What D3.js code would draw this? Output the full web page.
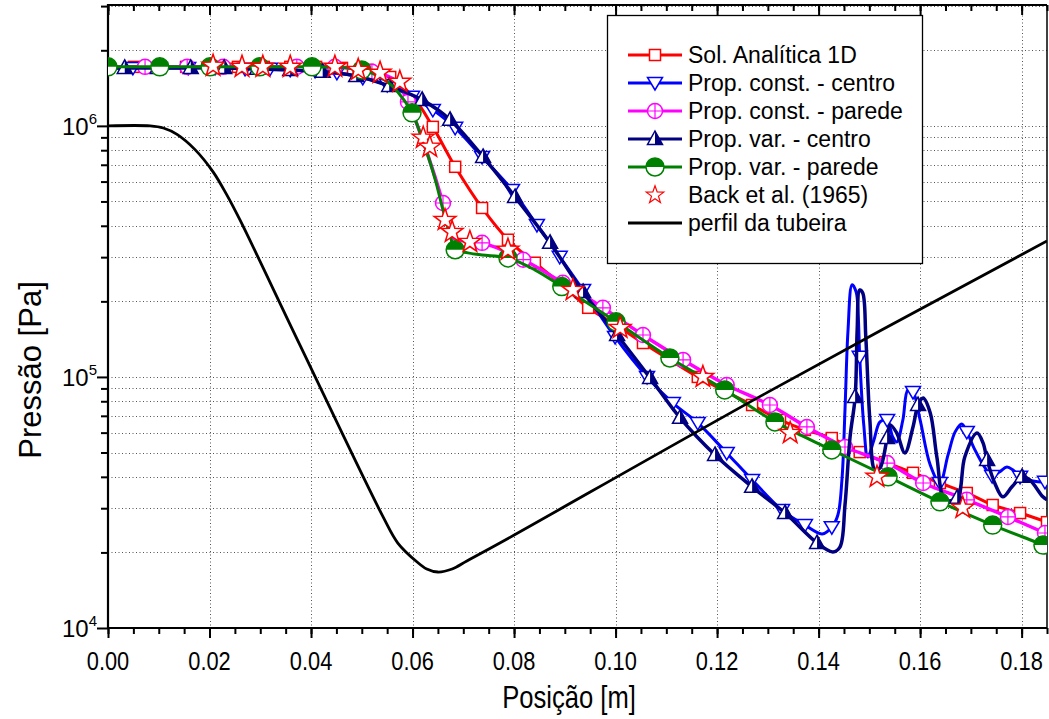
<!DOCTYPE html>
<html><head><meta charset="utf-8">
<script src="https://cdn.jsdelivr.net/npm/d3@7"></script>
<style>body{margin:0;background:#fff} svg{display:block}</style>
</head><body><svg id="c" width="1049" height="719"></svg>
<script>
// ---------- DATA ----------
const xTickValues = [0, 0.02, 0.04, 0.06, 0.08, 0.10, 0.12, 0.14, 0.16, 0.18];
const yMajorTicks = [1e4, 1e5, 1e6];
const yExponents = ["4", "5", "6"];
const seriesNames = ["Sol. Analítica 1D", "Prop. const. - centro", "Prop. const. - parede",
  "Prop. var. - centro", "Prop. var. - parede", "Back et al. (1965)", "perfil da tubeira"];

// [x (m), pressure (Pa), marker flag]
const solAnalitica = [
  [0,1.718e6,1],[0.0051,1.718e6,1],[0.0102,1.718e6,1],[0.0154,1.718e6,1],[0.0205,1.718e6,1],
  [0.0256,1.718e6,1],[0.0307,1.718e6,1],[0.0359,1.718e6,1],[0.041,1.718e6,1],[0.0461,1.702e6,1],
  [0.0512,1.671e6,1],[0.0556,1.566e6,1],[0.0601,1.305e6,0],[0.064,9.91e5,1],[0.0684,6.87e5,1],
  [0.0737,4.71e5,1],[0.0788,3.52e5,1],[0.0841,2.85e5,1],[0.0894,2.33e5,1],[0.0946,1.885e5,1],
  [0.1001,1.61e5,1],[0.1054,1.365e5,1],[0.1107,1.169e5,1],[0.1162,1.0e5,1],[0.1215,8.79e4,1],
  [0.1269,7.73e4,1],[0.1324,6.74e4,1],[0.1373,6.15e4,1],[0.1426,5.71e4,1],[0.1481,5.02e4,1],
  [0.1531,4.58e4,1],[0.1586,4.15e4,1],[0.1639,3.78e4,1],[0.1692,3.45e4,1],[0.1743,3.09e4,1],
  [0.1797,2.87e4,1],[0.185,2.64e4,1]
];
const constCentro = [
  [0,1.702e6,0],[0.0049,1.702e6,1],[0.0102,1.702e6,1],[0.0158,1.702e6,1],[0.0211,1.702e6,1],
  [0.027,1.687e6,1],[0.0319,1.687e6,1],[0.0359,1.671e6,1],[0.0408,1.656e6,1],[0.0451,1.626e6,1],
  [0.0502,1.553e6,1],[0.055,1.455e6,1],[0.0599,1.305e6,1],[0.064,1.158e6,1],[0.0684,9.82e5,1],
  [0.0737,7.52e5,1],[0.0796,5.56e5,1],[0.0845,4.03e5,1],[0.089,3.01e5,1],[0.0936,2.22e5,1],
  [0.0999,1.443e5,1],[0.1062,1.0e5,1],[0.1113,7.87e4,1],[0.1162,6.56e4,1],[0.1219,4.98e4,1],
  [0.1269,3.89e4,1],[0.1328,2.95e4,1],[0.1373,2.57e4,1],[0.1407,2.37e4,0],[0.1426,2.52e4,1],
  [0.1438,2.82e4,0],[0.1446,3.89e4,0],[0.1452,7.39e4,0],[0.1458,1.538e5,0],[0.1466,2.33e5,0],
  [0.1474,2.18e5,0],[0.1478,1.766e5,0],[0.1481,1.203e5,1],[0.1489,6.44e4,0],[0.1497,4.80e4,0],
  [0.1509,5.61e4,0],[0.1521,6.62e4,0],[0.1535,6.74e4,1],[0.1546,5.77e4,0],[0.1554,5.51e4,0],
  [0.1566,6.74e4,0],[0.1576,8.88e4,0],[0.1586,8.71e4,1],[0.16,6.74e4,0],[0.162,4.46e4,0],
  [0.1639,3.78e4,1],[0.1655,4.89e4,0],[0.1669,6.04e4,0],[0.1682,6.50e4,0],[0.1692,6.04e4,1],
  [0.1708,5.12e4,0],[0.1728,4.34e4,0],[0.1742,4.03e4,1],[0.1757,4.19e4,0],[0.1771,4.38e4,0],
  [0.1783,4.26e4,0],[0.1797,4.0e4,1],[0.1822,3.85e4,0],[0.1846,3.82e4,1],[0.185,3.85e4,0]
];
const constParede = [
  [0,1.718e6,0],[0.0073,1.718e6,1],[0.0156,1.718e6,1],[0.0227,1.718e6,1],[0.0299,1.718e6,1],
  [0.0372,1.718e6,1],[0.0447,1.718e6,1],[0.052,1.641e6,1],[0.0565,1.52e6,0],[0.0591,1.246e6,1],
  [0.063,7.66e5,0],[0.066,4.93e5,1],[0.0678,3.61e5,0],[0.0703,3.48e5,0],[0.0737,3.42e5,1],
  [0.0818,2.93e5,1],[0.0896,2.37e5,1],[0.0975,1.885e5,1],[0.1054,1.469e5,1],[0.1133,1.169e5,1],
  [0.1219,9.29e4,1],[0.1304,7.73e4,1],[0.1377,6.32e4,1],[0.1452,5.26e4,1],[0.1535,4.54e4,1],
  [0.1606,3.78e4,1],[0.1692,3.24e4,1],[0.1773,2.77e4,1],[0.1846,2.39e4,1],[0.185,2.37e4,0]
];
const varCentro = [
  [0,1.702e6,0],[0.0033,1.702e6,1],[0.0098,1.702e6,1],[0.0163,1.702e6,1],[0.0229,1.702e6,1],
  [0.0294,1.687e6,1],[0.0359,1.671e6,1],[0.0423,1.641e6,1],[0.0489,1.581e6,1],[0.0554,1.442e6,1],
  [0.0619,1.269e6,1],[0.0674,1.057e6,1],[0.0739,7.52e5,1],[0.0802,5.21e5,1],[0.0871,3.42e5,1],
  [0.0936,2.18e5,1],[0.1003,1.469e5,1],[0.1068,9.91e4,1],[0.1127,6.87e4,1],[0.1196,4.89e4,1],
  [0.1269,3.65e4,1],[0.1334,2.87e4,1],[0.1397,2.18e4,1],[0.1428,2.01e4,0],[0.1442,2.10e4,0],
  [0.1452,3.09e4,0],[0.1462,5.77e4,0],[0.1472,8.32e4,1],[0.1476,1.538e5,0],[0.1481,2.22e5,0],
  [0.1487,2.16e5,0],[0.1493,1.443e5,0],[0.1501,6.74e4,0],[0.1511,4.26e4,0],[0.1521,4.34e4,0],
  [0.1535,5.71e4,1],[0.1541,6.44e4,0],[0.1554,5.98e4,0],[0.157,4.98e4,0],[0.1586,6.32e4,0],
  [0.1596,7.73e4,1],[0.1606,8.25e4,0],[0.162,7.19e4,0],[0.1633,4.80e4,0],[0.1649,3.24e4,0],
  [0.1673,3.30e4,1],[0.1688,4.80e4,0],[0.1712,5.98e4,0],[0.1724,5.46e4,0],[0.1732,4.67e4,1],
  [0.1747,3.78e4,0],[0.1763,3.33e4,0],[0.1781,3.65e4,0],[0.1801,4.0e4,1],[0.1816,3.89e4,0],
  [0.1842,3.33e4,0],[0.185,3.24e4,0]
];
const varParede = [
  [0,1.718e6,1],[0.0102,1.718e6,1],[0.0201,1.718e6,1],[0.0299,1.718e6,1],[0.0402,1.718e6,1],
  [0.0500,1.671e6,1],[0.0546,1.52e6,0],[0.0571,1.365e6,0],[0.0599,1.127e6,1],[0.0615,9.38e5,0],
  [0.063,7.66e5,0],[0.0646,5.98e5,0],[0.066,4.62e5,0],[0.0674,3.68e5,0],[0.0684,3.21e5,1],
  [0.0709,3.12e5,0],[0.0737,3.06e5,0],[0.0788,2.98e5,1],[0.0841,2.67e5,0],[0.0894,2.29e5,1],
  [0.1001,1.657e5,1],[0.1107,1.19e5,1],[0.1215,8.88e4,1],[0.1314,6.62e4,1],[0.1426,5.12e4,1],
  [0.1537,4.0e4,1],[0.1639,3.18e4,1],[0.1743,2.57e4,1],[0.1842,2.14e4,1],[0.185,2.10e4,0]
];
const backEtAl = [
  [0.0207,1.734e6],[0.0264,1.718e6],[0.0305,1.718e6],[0.0359,1.718e6],[0.0447,1.718e6],
  [0.0493,1.671e6],[0.0536,1.626e6],[0.0575,1.497e6],[0.0621,8.96e5],[0.0634,8.25e5],
  [0.0664,4.22e5],[0.0678,3.78e5],[0.0713,3.45e5],[0.0788,3.21e5],[0.0916,2.22e5],
  [0.1009,1.568e5],[0.1172,1.0e5],[0.1344,5.98e4],[0.1515,4.0e4],[0.1684,3.01e4]
];
const perfilTubeira = [
  [0,1e6],[0.0083,1e6],[0.0109,9.81e5],[0.0136,9.25e5],[0.0171,8.06e5],[0.0207,6.56e5],
  [0.0233,5.36e5],[0.026,4.22e5],[0.0378,1.342e5],[0.0542,2.77e4],[0.0571,2.18e4],
  [0.0609,1.832e4],[0.0628,1.718e4],[0.065,1.671e4],[0.0678,1.718e4],[0.0707,1.849e4],
  [0.0772,2.18e4],[0.13,8.7e4],[0.185,3.48e5]
];

// ---------- CHART ----------
const svg = d3.select("#c");
const L = 108, R = 1047, T = 5, B = 628;
const x = d3.scaleLinear().domain([0, 0.185]).range([L, R]);
const y = d3.scaleLog().domain([1e4, 3.03e6]).range([B, T]);
const FONT = "'Liberation Sans',Arial,sans-serif";

svg.append("rect").attr("width", 1049).attr("height", 719).attr("fill", "#fff");
svg.append("defs").append("clipPath").attr("id", "pc")
  .append("rect").attr("x", L).attr("y", T).attr("width", R - L).attr("height", B - T);

const yAll = [];
for (let e = 4; e <= 6; e++) for (let m = 1; m <= 9; m++) { const v = m * Math.pow(10, e); if (v <= 3.03e6) yAll.push(v); }
const xMinor = d3.range(0, 0.1851, 0.005);

// grid
const grid = svg.append("g").attr("stroke", "#555").attr("stroke-width", 1).attr("stroke-dasharray", "1,2.5");
yAll.forEach(v => { const yy = Math.round(y(v)) + 0.5; if (yy > T + 1 && yy < B - 1)
  grid.append("line").attr("x1", L).attr("x2", R).attr("y1", yy).attr("y2", yy); });
xTickValues.forEach(v => { const xx = Math.round(x(v)) + 0.5; if (xx > L + 1)
  grid.append("line").attr("x1", xx).attr("x2", xx).attr("y1", T).attr("y2", B); });

// axes
function styleAxis(g) { g.select(".domain").remove(); g.selectAll(".tick line").attr("stroke", "#000").attr("stroke-width", 2); }
svg.append("g").attr("transform", `translate(${L},0)`).call(d3.axisLeft(y).tickValues(yMajorTicks).tickSize(11).tickFormat("")).call(styleAxis);
svg.append("g").attr("transform", `translate(${L},0)`).call(d3.axisLeft(y).tickValues(yAll.filter(v => !yMajorTicks.includes(v))).tickSize(7).tickFormat("")).call(styleAxis);
svg.append("g").attr("transform", `translate(0,${B})`).call(d3.axisBottom(x).tickValues(xTickValues).tickSize(10).tickFormat("")).call(styleAxis);
svg.append("g").attr("transform", `translate(0,${B})`).call(d3.axisBottom(x).tickValues(xMinor).tickSize(6).tickFormat("")).call(styleAxis);
svg.append("g").attr("transform", `translate(0,${T})`).call(d3.axisBottom(x).tickValues(xTickValues).tickSize(10).tickFormat("")).call(styleAxis);
svg.append("g").attr("transform", `translate(0,${T})`).call(d3.axisBottom(x).tickValues(xMinor).tickSize(6).tickFormat("")).call(styleAxis);

// x tick labels (condensed look)
const fmt = d3.format(".2f");
xTickValues.forEach(v => {
  svg.append("text").attr("transform", `translate(${x(v)},${B + 42}) scale(0.84,1)`).attr("text-anchor", "middle")
    .attr("font-family", FONT).attr("font-size", 26).attr("fill", "#000").text(fmt(v));
});

// y tick labels with superscripts
yMajorTicks.forEach((v, i) => {
  const t = svg.append("text").attr("x", 97).attr("y", y(v) + 9).attr("text-anchor", "end")
    .attr("font-family", FONT).attr("font-size", 24).attr("fill", "#000");
  t.append("tspan").text("10");
  t.append("tspan").attr("font-size", 15).attr("dy", -11).text(yExponents[i]);
});

// frame
svg.append("line").attr("x1", L).attr("x2", L).attr("y1", T - 1).attr("y2", B + 1).attr("stroke", "#000").attr("stroke-width", 2.2);
svg.append("line").attr("x1", L - 1).attr("x2", R).attr("y1", B).attr("y2", B).attr("stroke", "#000").attr("stroke-width", 2.2);
svg.append("line").attr("x1", L - 1).attr("x2", R).attr("y1", T).attr("y2", T).attr("stroke", "#000").attr("stroke-width", 2.2);
svg.append("line").attr("x1", R).attr("x2", R).attr("y1", T).attr("y2", B).attr("stroke", "#000").attr("stroke-width", 1.5);

// titles
svg.append("text").attr("transform", "translate(569,708) scale(0.8,1)").attr("text-anchor", "middle")
  .attr("font-family", FONT).attr("font-size", 32).text("Posição [m]");
svg.append("text").attr("transform", "translate(41,370) rotate(-90)").attr("text-anchor", "middle")
  .attr("font-family", FONT).attr("font-size", 31).text("Pressão [Pa]");

// markers
const markers = {
  square: (g, c) => g.append("rect").attr("x", -5.5).attr("y", -5.5).attr("width", 11).attr("height", 11)
    .attr("fill", "#fff").attr("stroke", c).attr("stroke-width", 1.5),
  triDown: (g, c) => g.append("path").attr("d", "M0,7L-7.5,-5.5L7.5,-5.5Z").attr("fill", "#fff").attr("stroke", c).attr("stroke-width", 1.5),
  circPlus: (g, c) => { g.append("circle").attr("r", 7.5).attr("fill", "#fff").attr("stroke", c).attr("stroke-width", 1.5);
    g.append("path").attr("d", "M-7.5,0H7.5M0,-7.5V7.5").attr("stroke", c).attr("stroke-width", 1.2); },
  triUpHalf: (g, c) => { g.append("path").attr("d", "M0,-8L7.5,5.5L-7.5,5.5Z").attr("fill", "#fff").attr("stroke", c).attr("stroke-width", 1.5);
    g.append("path").attr("d", "M0,-8L7.5,5.5L0,5.5Z").attr("fill", c); },
  circHalf: (g, c) => { g.append("circle").attr("r", 9).attr("fill", "#fff").attr("stroke", c).attr("stroke-width", 1.5);
    g.append("path").attr("d", "M-9,0A9,9 0 0 1 9,0Z").attr("fill", c); },
  star: (g, c) => { const pts = []; for (let k = 0; k < 10; k++) { const r = k % 2 ? 4.6 : 11.5; const a = -Math.PI / 2 + k * Math.PI / 5; pts.push([r * Math.cos(a), r * Math.sin(a)]); }
    g.append("path").attr("d", "M" + pts.map(p => p.join(",")).join("L") + "Z").attr("fill", "#fff").attr("stroke", c).attr("stroke-width", 1.5); }
};

const plot = svg.append("g").attr("clip-path", "url(#pc)");
const line = d3.line().x(d => x(d[0])).y(d => y(d[1])).curve(d3.curveCatmullRom.alpha(0.5));

const series = [
  { data: solAnalitica, color: "#ff0000", m: "square", w: 3 },
  { data: constCentro, color: "#0000ff", m: "triDown", w: 3 },
  { data: constParede, color: "#ff00ff", m: "circPlus", w: 3.5 },
  { data: varCentro, color: "#000080", m: "triUpHalf", w: 3.5 },
  { data: varParede, color: "#008000", m: "circHalf", w: 3 }
];
series.forEach(s => {
  plot.append("path").datum(s.data).attr("d", line).attr("fill", "none").attr("stroke", s.color).attr("stroke-width", s.w).attr("stroke-linejoin", "round");
  s.data.filter(d => d[2]).forEach(d => markers[s.m](plot.append("g").attr("transform", `translate(${x(d[0])},${y(d[1])})`), s.color));
});
plot.append("path").datum(perfilTubeira).attr("d", line)
  .attr("fill", "none").attr("stroke", "#000").attr("stroke-width", 2.8);
backEtAl.forEach(d => markers.star(plot.append("g").attr("transform", `translate(${x(d[0])},${y(d[1])})`), "#ff0000"));

// legend
const lg = svg.append("g");
lg.append("rect").attr("x", 607.5).attr("y", 15.5).attr("width", 315).attr("height", 248).attr("fill", "#fff").attr("stroke", "#000").attr("stroke-width", 1.3);
const legendItems = [
  { color: "#ff0000", m: "square", line: true }, { color: "#0000ff", m: "triDown", line: true },
  { color: "#ff00ff", m: "circPlus", line: true }, { color: "#000080", m: "triUpHalf", line: true },
  { color: "#008000", m: "circHalf", line: true }, { color: "#ff0000", m: "star", line: false },
  { color: "#000", m: null, line: true }
];
legendItems.forEach((it, i) => {
  const yy = 55 + i * 28;
  if (it.line) lg.append("line").attr("x1", 628).attr("x2", 682).attr("y1", yy).attr("y2", yy).attr("stroke", it.color).attr("stroke-width", 3);
  if (it.m) { const g = lg.append("g").attr("transform", `translate(655,${yy})` + (it.m === "star" ? " scale(0.8)" : "")); markers[it.m](g, it.color); }
  lg.append("text").attr("x", 688).attr("y", yy + 8).attr("font-family", FONT).attr("font-size", 23).text(seriesNames[i]);
});
</script></body></html>
